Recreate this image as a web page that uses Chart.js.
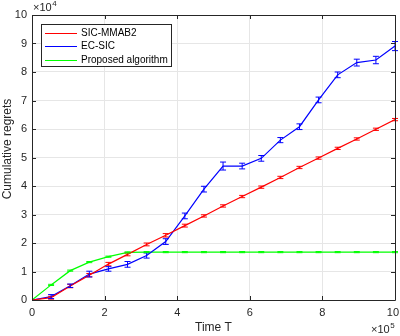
<!DOCTYPE html>
<html><head><meta charset="utf-8">
<script src="https://cdn.jsdelivr.net/npm/chart.js@4.4.0/dist/chart.umd.min.js"></script>
<style>
body{margin:0;background:#fff;}
</style></head>
<body><canvas id="c" width="400" height="336"></canvas>
<script>
const timeT = [0, 52632, 105263, 157895, 210526, 263158, 315789, 368421, 421053, 473684, 526316, 578947, 631579, 684211, 736842, 789474, 842105, 894737, 947368, 1000000];
const sicMmab2 = [0, 800, 4900, 8700, 12600, 16000, 19500, 22700, 26100, 29500, 33000, 36300, 39600, 43000, 46500, 49800, 53200, 56500, 59900, 63300];
const sicMmab2Err = [0, 500, 600, 600, 600, 500, 500, 600, 500, 400, 400, 400, 400, 400, 400, 400, 400, 400, 400, 400];
const ecSic = [0, 1200, 5000, 9100, 10900, 12500, 15600, 20500, 29500, 38900, 47000, 47000, 49700, 56100, 60800, 70200, 79000, 83300, 84200, 89100];
const ecSicErr = [0, 700, 600, 1000, 800, 1000, 900, 1000, 1000, 1000, 1400, 1000, 1000, 900, 1000, 1000, 1000, 1200, 1300, 1600];
const proposed = [0, 5300, 10300, 13300, 15200, 16700, 16800, 16800, 16800, 16800, 16800, 16800, 16800, 16800, 16800, 16800, 16800, 16800, 16800, 16800];
const proposedErr = [0, 200, 200, 200, 200, 200, 200, 200, 200, 200, 200, 200, 200, 200, 200, 200, 200, 200, 200, 200];
const seriesNames = ['SIC-MMAB2', 'EC-SIC', 'Proposed algorithm'];
const seriesColors = ['#ff0000', '#0000ff', '#00ff00'];
const xTicks = [0, 200000, 400000, 600000, 800000, 1000000];
const yTicks = [0, 10000, 20000, 30000, 40000, 50000, 60000, 70000, 80000, 90000, 100000];
const xTitle = 'Time T';
const yTitle = 'Cumulative regrets';

const FONT = '"Liberation Sans", Arial, sans-serif';
const TXT = '#262626';
const values = [sicMmab2, ecSic, proposed];
const errs = [sicMmab2Err, ecSicErr, proposedErr];

const datasets = values.map((v, i) => ({
  label: seriesNames[i],
  data: v.map((y, k) => ({x: timeT[k], y: y})),
  errors: errs[i],
  borderColor: seriesColors[i],
  backgroundColor: seriesColors[i],
  borderWidth: 1.2,
  pointRadius: 0,
  tension: 0,
  fill: false
}));

function expLabel(ctx, x, baseline, exp) {
  ctx.font = '11px ' + FONT;
  ctx.textAlign = 'left'; ctx.textBaseline = 'alphabetic';
  ctx.fillText('\u00d710', x, baseline);
  const w = ctx.measureText('\u00d710').width;
  ctx.font = '8px ' + FONT;
  ctx.fillText(exp, x + w + 0.5, baseline - 5);
}

const extras = {
  id: 'extras',
  afterDatasetsDraw(chart) {
    const ctx = chart.ctx, xs = chart.scales.x, ys = chart.scales.y;
    chart.data.datasets.forEach(ds => {
      ctx.save();
      ctx.strokeStyle = ds.borderColor; ctx.lineWidth = 1;
      ds.data.forEach((p, k) => {
        const e = ds.errors[k];
        if (!e) return;
        const px = xs.getPixelForValue(p.x);
        const y1 = ys.getPixelForValue(p.y - e), y2 = ys.getPixelForValue(p.y + e);
        ctx.beginPath();
        ctx.moveTo(px, y1); ctx.lineTo(px, y2);
        ctx.moveTo(px - 3, y1); ctx.lineTo(px + 3, y1);
        ctx.moveTo(px - 3, y2); ctx.lineTo(px + 3, y2);
        ctx.stroke();
      });
      ctx.restore();
    });
  },
  afterDraw(chart) {
    const ctx = chart.ctx, a = chart.chartArea, xs = chart.scales.x, ys = chart.scales.y;
    ctx.save();
    ctx.strokeStyle = TXT; ctx.lineWidth = 1;
    ctx.beginPath();
    ctx.rect(Math.round(a.left) + 0.5, Math.round(a.top) + 0.5, Math.round(a.right - a.left), Math.round(a.bottom - a.top));
    xTicks.forEach(t => {
      const px = Math.round(xs.getPixelForValue(t)) + 0.5;
      ctx.moveTo(px, a.bottom); ctx.lineTo(px, a.bottom - 4);
      ctx.moveTo(px, a.top); ctx.lineTo(px, a.top + 4);
    });
    yTicks.forEach(t => {
      const py = Math.round(ys.getPixelForValue(t)) + 0.5;
      ctx.moveTo(a.left, py); ctx.lineTo(a.left + 4, py);
      ctx.moveTo(a.right, py); ctx.lineTo(a.right - 4, py);
    });
    ctx.stroke();
    ctx.fillStyle = TXT;
    ctx.font = '11px ' + FONT;
    ctx.textAlign = 'center'; ctx.textBaseline = 'middle';
    xTicks.forEach(t => {
      const s = String(t / 100000);
      const w = ctx.measureText(s).width;
      let px = xs.getPixelForValue(t);
      px = Math.min(px, 399 - w / 2);
      ctx.fillText(s, px, a.bottom + 13);
    });
    expLabel(ctx, a.left + 1, a.top - 4, '4');
    expLabel(ctx, a.right - 24, a.bottom + 33, '5');
    ctx.font = '12px ' + FONT;
    ctx.textAlign = 'center'; ctx.textBaseline = 'middle';
    ctx.fillText(xTitle, (a.left + a.right) / 2, 328);
    ctx.save();
    ctx.translate(8, 149);
    ctx.rotate(-Math.PI / 2);
    ctx.fillText(yTitle, 0, 0);
    ctx.restore();
    // legend
    const lx = 41.5, ly = 24.5, lw = 130, lh = 42;
    ctx.fillStyle = '#fff';
    ctx.fillRect(lx, ly, lw, lh);
    ctx.strokeStyle = TXT; ctx.lineWidth = 1;
    ctx.strokeRect(lx, ly, lw, lh);
    ctx.font = '10px ' + FONT;
    ctx.textAlign = 'left'; ctx.textBaseline = 'middle';
    chart.data.datasets.forEach((ds, i) => {
      const cy = 32.5 + i * 13.5;
      ctx.strokeStyle = ds.borderColor; ctx.lineWidth = 1;
      ctx.beginPath(); ctx.moveTo(45, Math.round(cy) + 0.5); ctx.lineTo(77, Math.round(cy) + 0.5); ctx.stroke();
      ctx.fillStyle = '#000';
      ctx.fillText(ds.label, 81, cy + 0.5);
    });
    ctx.restore();
  }
};

new Chart(document.getElementById('c'), {
  type: 'line',
  data: {datasets},
  options: {
    responsive: false,
    animation: false,
    layout: {autoPadding: false, padding: {top: 15, right: 5, left: 0, bottom: 0}},
    plugins: {legend: {display: false}, tooltip: {enabled: false}},
    scales: {
      x: {
        type: 'linear', min: 0, max: 1000000,
        afterBuildTicks: s => { s.ticks = xTicks.map(v => ({value: v})); },
        afterFit: s => { s.height = 36; s.paddingLeft = 0; s.paddingRight = 0; },
        ticks: {display: false},
        grid: {color: '#e6e6e6', drawTicks: false},
        border: {display: false}
      },
      y: {
        type: 'linear', min: 0, max: 100000,
        afterBuildTicks: s => { s.ticks = yTicks.map(v => ({value: v})); },
        afterFit: s => { s.width = 32; s.paddingTop = 0; s.paddingBottom = 0; },
        ticks: {callback: v => String(v / 10000), color: TXT, font: {family: FONT, size: 11}, padding: 5},
        grid: {color: '#e6e6e6', drawTicks: false},
        border: {display: false}
      }
    }
  },
  plugins: [extras]
});
</script></body></html>
